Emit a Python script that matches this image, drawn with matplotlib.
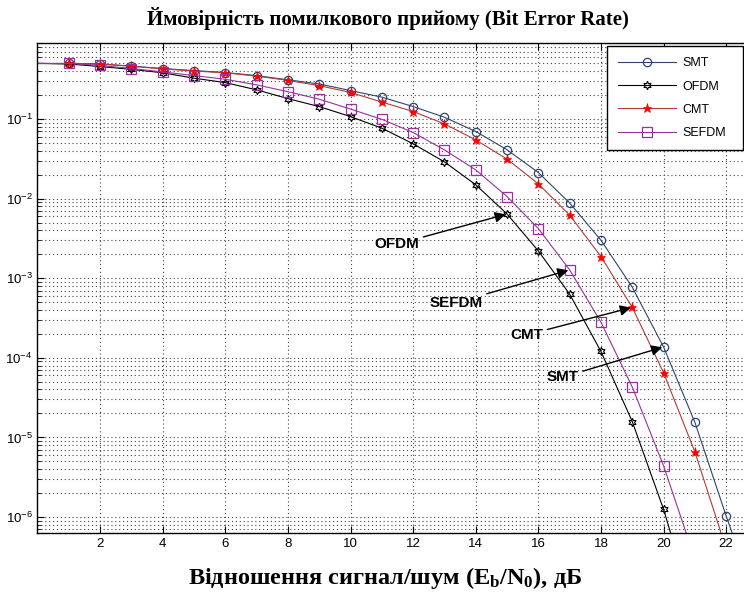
import matplotlib
matplotlib.use("Agg")
import matplotlib.pyplot as plt
from matplotlib.ticker import FixedLocator, LogLocator, NullFormatter

plt.rcParams["font.family"] = ["Liberation Sans", "DejaVu Sans"]
plt.rcParams["mathtext.fontset"] = "custom"
plt.rcParams["mathtext.rm"] = "Liberation Sans"
plt.rcParams["mathtext.bf"] = "Liberation Serif:bold"

# Eb/N0, dB
snr_db = list(range(0, 24))

# BER
ber_smt = [0.5, 0.5, 0.49, 0.46, 0.43, 0.405, 0.383, 0.35, 0.31, 0.275, 0.227, 0.188,
           0.143, 0.105, 0.0695, 0.041, 0.0212, 0.0088, 0.003, 7.7e-4, 1.37e-4, 1.55e-5,
           1.03e-6, 8e-8]
ber_ofdm = [0.5, 0.49, 0.455, 0.42, 0.38, 0.325, 0.286, 0.232, 0.18, 0.143, 0.107, 0.0766,
            0.0487, 0.0289, 0.0149, 0.0064, 0.0022, 6.3e-4, 1.2e-4, 1.58e-5, 1.25e-6, 6e-8]
ber_cmt = [0.5, 0.5, 0.49, 0.46, 0.425, 0.4, 0.38, 0.345, 0.305, 0.262, 0.215, 0.163,
           0.124, 0.0867, 0.0546, 0.0313, 0.0153, 0.0062, 0.00187, 4.3e-4, 6.5e-5, 6.6e-6,
           4e-7]
ber_sefdm = [0.5, 0.5, 0.47, 0.43, 0.39, 0.35, 0.315, 0.268, 0.22, 0.177, 0.133, 0.099,
             0.0675, 0.0409, 0.0229, 0.0106, 0.0042, 0.00127, 2.8e-4, 4.3e-5, 4.4e-6, 3e-7]

labels = ["SMT", "OFDM", "CMT", "SEFDM"]
xticks = list(range(2, 24, 2))
yticks = [1e-6, 1e-5, 1e-4, 1e-3, 1e-2, 1e-1]

c_smt, c_ofdm, c_cmt, c_sefdm = "#2e4470", "black", "#b23a3a", "#9a30a0"

fig = plt.figure(figsize=(7.44, 5.96), dpi=100)
ax = fig.add_axes([0.0504, 0.1057, 0.9677, 0.8222])

star6 = (6, 1, 0)
ax.semilogy(snr_db[1:], ber_smt[1:], color=c_smt, lw=0.8, marker="o", ms=6,
            mfc="none", mec=c_smt, mew=0.9, label=labels[0])
ax.semilogy(snr_db[:len(ber_ofdm)][1:], ber_ofdm[1:], color=c_ofdm, lw=0.8, marker=star6,
            ms=6, mfc="none", mec=c_ofdm, mew=0.8, label=labels[1])
ax.semilogy(snr_db[:len(ber_cmt)][1:], ber_cmt[1:], color=c_cmt, lw=0.8, marker="*",
            ms=6.5, mfc="red", mec="red", mew=0.5, label=labels[2])
ax.semilogy(snr_db[:len(ber_sefdm)][1:], ber_sefdm[1:], color=c_sefdm, lw=0.8, marker="s",
            ms=6.5, mfc="none", mec=c_sefdm, mew=0.9, label=labels[3])

# lines start at 0 dB without markers
for ber, col in [(ber_smt, c_smt), (ber_ofdm, c_ofdm), (ber_cmt, c_cmt), (ber_sefdm, c_sefdm)]:
    ax.semilogy(snr_db[:2], ber[:2], color=col, lw=0.8)

ax.set_xlim(0, 23)
ax.set_ylim(6.3e-7, 0.9)
ax.set_xticks(xticks)
ax.yaxis.set_major_locator(FixedLocator(yticks))
ax.yaxis.set_minor_locator(LogLocator(base=10, subs=range(2, 10), numticks=12))
ax.yaxis.set_minor_formatter(NullFormatter())
ax.tick_params(which="both", direction="in", top=True, right=True, labelsize=9.5)
ax.tick_params(which="major", length=5)
ax.tick_params(which="minor", length=3)
grid_style = dict(ls=(0, (1, 2.5)), color="#444444", lw=0.8)
ax.grid(True, which="major", axis="both", **grid_style)
ax.grid(True, which="minor", axis="y", **grid_style)
for sp in ax.spines.values():
    sp.set_linewidth(1.0)

# arrows pointing at curves
notes = [("OFDM", 15, ber_ofdm, (11.48, 2.67e-3)),
         ("SEFDM", 17, ber_sefdm, (13.37, 4.93e-4)),
         ("CMT", 19, ber_cmt, (15.63, 1.94e-4)),
         ("SMT", 20, ber_smt, (16.78, 5.7e-5))]
for name, i, ber, pos in notes:
    ax.annotate(name, xy=(snr_db[i], ber[i]), xytext=pos, ha="center", va="center",
                fontsize=11, fontweight="bold",
                arrowprops=dict(arrowstyle="-|>", color="black", lw=1.0,
                                mutation_scale=16, shrinkA=1, shrinkB=1))

leg = ax.legend(loc="upper left",
                bbox_to_anchor=(607 / 744, 1 - 150 / 596, 136 / 744, 104 / 596),
                bbox_transform=fig.transFigure, mode="expand", borderaxespad=0,
                fontsize=9, handlelength=4.6, handletextpad=0.5, labelspacing=0.9,
                borderpad=0.9, fancybox=False, framealpha=1, edgecolor="black")
leg.get_frame().set_linewidth(1.0)

fig.text(388 / 744, 1 - 18 / 596, "Ймовірність помилкового прийому (Bit Error Rate)",
         ha="center", va="center", fontsize=15, fontweight="bold",
         family=["Liberation Serif", "DejaVu Serif"])
fig.text(385 / 744, 1 - 578 / 596,
         r"Відношення сигнал/шум ($\mathbf{E_b}$/$\mathbf{N_0}$), дБ",
         ha="center", va="center", fontsize=17.5, fontweight="bold",
         family=["Liberation Serif", "DejaVu Serif"])

fig.savefig("out.png", dpi=100)
